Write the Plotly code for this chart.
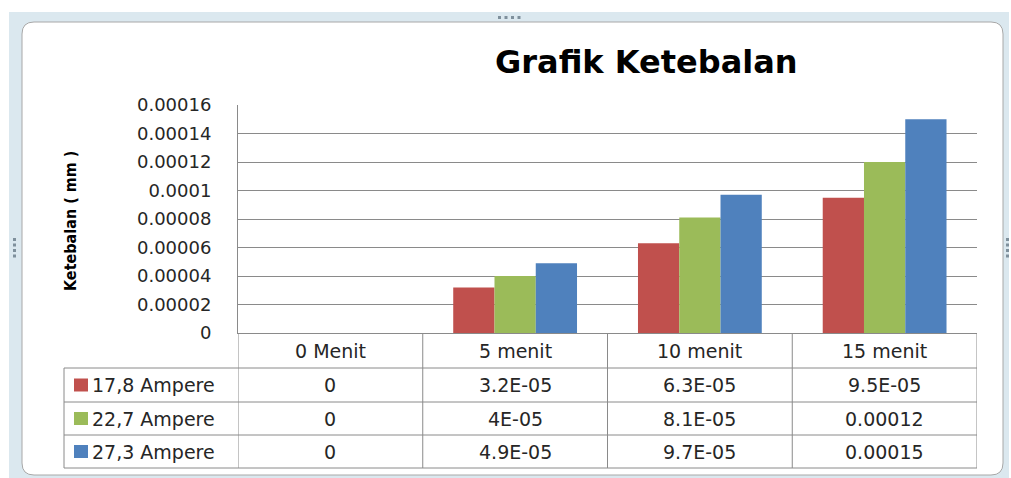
import plotly.graph_objects as go

# ---------------- data ----------------
categories = ["0 Menit", "5 menit", "10 menit", "15 menit"]
series_names = ["17,8 Ampere", "22,7 Ampere", "27,3 Ampere"]
amp_17_8 = [0, 3.2e-5, 6.3e-5, 9.5e-5]
amp_22_7 = [0, 4.0e-5, 8.1e-5, 1.2e-4]
amp_27_3 = [0, 4.9e-5, 9.7e-5, 1.5e-4]
series_values = [amp_17_8, amp_22_7, amp_27_3]
colors = ["#C0504D", "#9BBB59", "#4F81BD"]
y_tickvals = [0, 2e-5, 4e-5, 6e-5, 8e-5, 1e-4, 1.2e-4, 1.4e-4, 1.6e-4]
y_ticktext = ["0", "0.00002", "0.00004", "0.00006", "0.00008", "0.0001",
              "0.00012", "0.00014", "0.00016"]
title_text = "Grafik Ketebalan"
y_title = "Ketebalan ( mm )"

# ---------------- layout constants (pixels) ----------------
W, H = 1011, 478
PL, PR, PT, PB = 238, 977, 105, 333
ROW_EDGES = [333, 368, 402, 435, 468]
LEG_L = 64
GRID = "#8a8a8a"
TXT = "#262626"
FONT = "DejaVu Sans"


def px(x):
    return x / W


def py(y):
    return 1 - y / H


def excel_general(v):
    if v == 0:
        return "0"
    if abs(v) < 1e-4:
        mant, exp = f"{v:.1E}".split("E")
        mant = mant.rstrip("0").rstrip(".")
        return f"{mant}E{exp}"
    return f"{v:g}"


def rounded_rect(x0, y0, x1, y1, r):
    rx, ry = r / W, r / H
    X0, X1 = px(x0), px(x1)
    Y0, Y1 = py(y0), py(y1)
    return (f"M {X0+rx},{Y0} L {X1-rx},{Y0} Q {X1},{Y0} {X1},{Y0-ry} "
            f"L {X1},{Y1+ry} Q {X1},{Y1} {X1-rx},{Y1} "
            f"L {X0+rx},{Y1} Q {X0},{Y1} {X0},{Y1+ry} "
            f"L {X0},{Y0-ry} Q {X0},{Y0} {X0+rx},{Y0} Z")


fig = go.Figure()
for name, vals, col in zip(series_names, series_values, colors):
    fig.add_trace(go.Bar(x=categories, y=vals, name=name, marker_color=col,
                         marker_line_width=0, showlegend=False))

shapes = []
# chart frame
shapes.append(dict(type="rect", xref="paper", yref="paper", x0=px(9), x1=px(1009),
                   y0=py(478), y1=py(12), fillcolor="#dbe8ef", line_width=0, layer="below"))
shapes.append(dict(type="path", xref="paper", yref="paper",
                   path=rounded_rect(22, 22, 1003, 475, 12),
                   fillcolor="white", line=dict(color="#a8a8a8", width=1), layer="below"))
# selection handles (decorative dots)
HANDLE = "#7f909c"
for k in range(4):
    hx = 498 + k * 6.5
    shapes.append(dict(type="rect", xref="paper", yref="paper", x0=px(hx), x1=px(hx + 3),
                       y0=py(19), y1=py(16), fillcolor=HANDLE, line_width=0))
    hy = 238 + k * 5.5
    for sx in (13, 1006):
        shapes.append(dict(type="rect", xref="paper", yref="paper", x0=px(sx), x1=px(sx + 3),
                           y0=py(hy + 3), y1=py(hy), fillcolor=HANDLE, line_width=0))

# table lines
for yy in ROW_EDGES[1:]:
    shapes.append(dict(type="line", xref="paper", yref="paper", x0=px(LEG_L), x1=px(PR),
                       y0=py(yy), y1=py(yy), line=dict(color=GRID, width=1)))
for i in range(len(categories) + 1):
    shapes.append(dict(type="line", xref="x", yref="paper", x0=i - 0.5, x1=i - 0.5,
                       y0=py(ROW_EDGES[0]), y1=py(ROW_EDGES[-1]), line=dict(color=GRID, width=1)))
shapes.append(dict(type="line", xref="paper", yref="paper", x0=px(LEG_L), x1=px(LEG_L),
                   y0=py(ROW_EDGES[1]), y1=py(ROW_EDGES[-1]), line=dict(color=GRID, width=1)))

annotations = []
annotations.append(dict(text=f"<b>{title_text}</b>", x=px(646), y=py(62), xref="paper",
                        yref="paper", xanchor="center", yanchor="middle", showarrow=False,
                        font=dict(family=FONT, size=32, color="#000000")))
annotations.append(dict(text=f"<b>{y_title}</b>", x=px(71), y=py(221), xref="paper",
                        yref="paper", xanchor="center", yanchor="middle", showarrow=False,
                        textangle=-90,
                        font=dict(family="DejaVu Sans Condensed", size=16, color="#000000")))
# header row
hc = (ROW_EDGES[0] + ROW_EDGES[1]) / 2
for c in categories:
    annotations.append(dict(text=c, x=c, xref="x", y=py(hc), yref="paper",
                            xanchor="center", yanchor="middle", showarrow=False,
                            font=dict(family=FONT, size=19, color=TXT)))
# data rows
for r, (name, vals, col) in enumerate(zip(series_names, series_values, colors)):
    yc = (ROW_EDGES[r + 1] + ROW_EDGES[r + 2]) / 2
    annotations.append(dict(text=name, x=px(90), y=py(yc), xref="paper", yref="paper",
                            xanchor="left", yanchor="middle", showarrow=False,
                            font=dict(family=FONT, size=19, color=TXT)))
    shapes.append(dict(type="rect", xref="paper", yref="paper", x0=px(74), x1=px(88),
                       y0=py(yc + 6.5), y1=py(yc - 6.5), fillcolor=col, line_width=0))
    for c, v in zip(categories, vals):
        annotations.append(dict(text=excel_general(v), x=c, xref="x", y=py(yc), yref="paper",
                                xanchor="center", yanchor="middle", showarrow=False,
                                font=dict(family=FONT, size=19, color=TXT)))

fig.update_layout(
    width=W, height=H,
    margin=dict(l=0, r=0, t=0, b=0),
    paper_bgcolor="white", plot_bgcolor="white",
    barmode="group", bargap=0.33, bargroupgap=0,
    shapes=shapes, annotations=annotations,
    xaxis=dict(domain=[px(PL), px(PR)], range=[-0.5, len(categories) - 0.5], type="category",
               showticklabels=False, showgrid=False, showline=True, linecolor=GRID,
               ticks="", zeroline=False, automargin=False, fixedrange=True),
    yaxis=dict(domain=[py(PB), py(PT)], range=[0, 1.6e-4], tickmode="array",
               tickvals=y_tickvals, ticktext=y_ticktext, showgrid=True, gridcolor=GRID,
               gridwidth=1, showline=True, linecolor=GRID, ticks="", zeroline=False,
               tickfont=dict(family=FONT, size=18, color=TXT), ticklabelstandoff=22,
               automargin=False, fixedrange=True),
)

fig.write_html("out.html", config={"displayModeBar": False},
               post_script="document.body.style.margin='0';document.body.style.overflow='hidden';")
